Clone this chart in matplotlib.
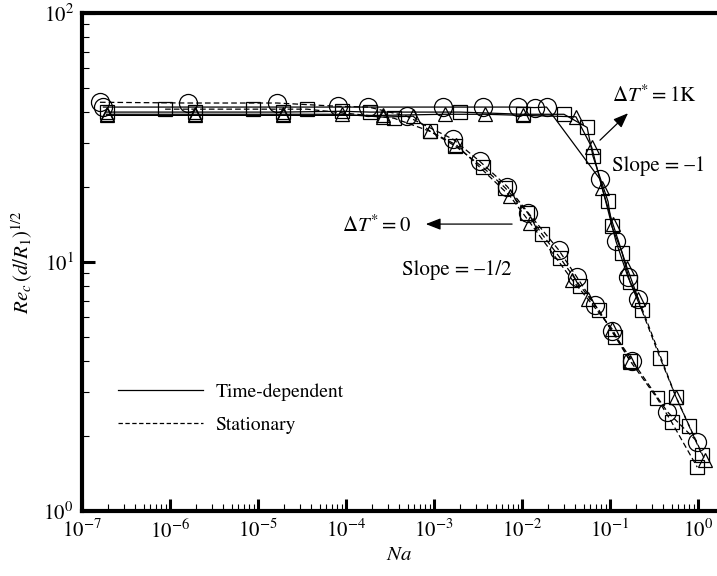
import numpy as np
import matplotlib
matplotlib.use('Agg')
from matplotlib import pyplot as plt
from matplotlib.lines import Line2D
from matplotlib.ticker import LogLocator, FixedLocator, NullFormatter

plt.rcParams['font.family'] = ['STIXGeneral', 'DejaVu Serif']
plt.rcParams['mathtext.fontset'] = 'stix'

# delta T* = 0 (left curve, slope -1/2)
circ0_na = [1.6e-7, 1.6e-6, 1.65e-5, 8.1e-5, 1.8e-4, 4.9e-4, 1.65e-3, 3.3e-3, 6.8e-3, 1.17e-2,
            2.6e-2, 4.2e-2, 6.8e-2, 0.105, 0.18, 0.45, 0.98]
circ0_re = [43.8, 43.5, 43.5, 42.2, 41.9, 38.5, 31.1, 25.4, 20.1, 15.8,
            11.2, 8.7, 6.7, 5.3, 4.0, 2.5, 1.9]

sq0_na = [8.8e-7, 8.7e-6, 3.6e-5, 3.5e-4, 9e-4, 1.75e-3, 3.6e-3, 6.4e-3, 1.15e-2, 1.7e-2,
          2.7e-2, 4.6e-2, 7.5e-2, 0.115, 0.17, 0.34, 0.5, 0.98]
sq0_re = [41.1, 41.1, 41.1, 37.8, 33.5, 29.2, 24.0, 19.9, 15.8, 12.9,
          10.4, 8.0, 6.4, 5.0, 4.0, 2.85, 2.28, 1.5]

tri0_na = [1.9e-7, 1.9e-6, 1.9e-5, 8.9e-5, 2.6e-4, 5.8e-4, 9e-4, 1.8e-3, 7.3e-3, 1.23e-2,
           3.7e-2, 5.6e-2, 0.105, 0.17]
tri0_re = [39.2, 39.2, 39.2, 39.2, 38.2, 38.5, 33.5, 29.5, 18.4, 14.4,
           8.5, 7.1, 5.4, 3.98]

# delta T* = 1K (right curve, slope -1)
circ1_na = [1.75e-7, 1.26e-3, 3.6e-3, 9e-3, 1.4e-2, 1.9e-2, 7.7e-2, 0.117, 0.16, 0.21]
circ1_re = [41.9, 41.9, 41.9, 41.9, 41.7, 41.9, 21.5, 12.1, 8.7, 7.1]

sq1_na = [1.9e-7, 1.9e-6, 1.9e-5, 8.9e-5, 1.87e-4, 2e-3, 1.02e-2, 3e-2, 5.5e-2, 6.4e-2,
          9.5e-2, 0.105, 0.137, 0.169, 0.23, 0.37, 0.56, 0.79, 1.11]
sq1_re = [40.0, 40.0, 40.0, 40.3, 40.0, 40.0, 39.2, 39.2, 34.7, 26.6,
          17.5, 13.9, 10.9, 8.3, 6.4, 4.13, 2.88, 2.2, 1.68]

tri1_na = [1.9e-7, 1.9e-6, 1.9e-5, 2.6e-4, 1.33e-3, 3.8e-3, 1.02e-2, 4.1e-2, 6.2e-2, 8.1e-2,
           0.108, 0.156, 0.21, 0.56, 1.2]
tri1_re = [38.8, 38.8, 38.8, 38.8, 39.2, 39.2, 38.8, 38.3, 28.9, 19.9,
           14.2, 9.5, 7.1, 2.88, 1.6]

x_major = [1e-7, 1e-6, 1e-5, 1e-4, 1e-3, 1e-2, 1e-1, 1e0]
y_major = [1, 10, 100]

# index where each series switches from time-dependent (solid) to stationary (dashed)
series = [
    (circ0_na, circ0_re, 'o', 0),
    (sq0_na, sq0_re, 's', 0),
    (tri0_na, tri0_re, '^', 5),
    (circ1_na, circ1_re, 'o', len(circ1_na)),
    (sq1_na, sq1_re, 's', 14),
    (tri1_na, tri1_re, '^', 12),
]
msizes = {'o': 13, 's': 9.5, '^': 10.5}
dash = (0, (4.5, 2.5))

fig = plt.figure(figsize=(7.17, 5.76), dpi=100)
ax = fig.add_axes([82 / 717, 1 - 511 / 576, 1 - 82 / 717, 498 / 576])

for na, re, mk, k in series:
    na = np.array(na)
    re = np.array(re)
    if k > 0:
        ax.plot(na[:k + 1], re[:k + 1], '-', color='black', lw=0.9)
    if k < len(na) - 1:
        ax.plot(na[k:], re[k:], color='black', lw=0.9, linestyle=dash)
    ax.plot(na, re, linestyle='none', marker=mk, ms=msizes[mk], mfc='none',
            mec='black', mew=0.9)

ax.set_xscale('log')
ax.set_yscale('log')
ax.set_xlim(1e-7, 10 ** 0.216)
ax.set_ylim(1, 100)

ax.xaxis.set_major_locator(FixedLocator(x_major))
ax.yaxis.set_major_locator(FixedLocator(y_major))
ax.xaxis.set_minor_locator(LogLocator(base=10, subs=np.arange(2, 10), numticks=100))
ax.xaxis.set_minor_formatter(NullFormatter())
ax.yaxis.set_minor_locator(LogLocator(base=10, subs=np.arange(2, 10), numticks=100))
ax.yaxis.set_minor_formatter(NullFormatter())

ax.spines['right'].set_visible(False)
for s in ['left', 'bottom', 'top']:
    ax.spines[s].set_linewidth(3)
ax.tick_params(which='major', direction='in', length=9, width=2.2, labelsize=15, pad=6,
               top=False, right=False)
ax.tick_params(which='minor', direction='in', length=5, width=0.8, top=False, right=False)

ax.set_xlabel('$Na$', fontsize=15, labelpad=2)
ax.set_ylabel(r'$Re_c\,(d/R_1)^{1/2}$', fontsize=15, labelpad=6)

ax.annotate('', xy=(7.5e-4, 14.2), xytext=(8.3e-3, 14.2),
            arrowprops=dict(arrowstyle='-|>,head_length=0.9,head_width=0.35', color='black', lw=0.9))
ax.text(5.5e-4, 14.0, r'$\Delta T^{*} = 0$', fontsize=15, ha='right', va='center')
ax.text(4.3e-4, 9.3, 'Slope = \u20131/2', fontsize=15, ha='left', va='center')

ax.annotate('', xy=(0.169, 40.3), xytext=(0.073, 30.3),
            arrowprops=dict(arrowstyle='-|>,head_length=0.9,head_width=0.35', color='black', lw=0.9))
ax.text(0.105, 46.4, r'$\Delta T^{*} = 1\mathrm{K}$', fontsize=15, ha='left', va='center')
ax.text(0.105, 24.2, 'Slope = \u20131', fontsize=15, ha='left', va='center')

handles = [Line2D([], [], color='black', lw=0.9, linestyle='-'),
           Line2D([], [], color='black', lw=0.9, linestyle=(0, (3.5, 2)))]
ax.legend(handles, ['Time-dependent', 'Stationary'], loc='lower left',
          bbox_to_anchor=(0.029, 0.12), frameon=False, fontsize=14,
          handlelength=4.4, handletextpad=0.6, labelspacing=0.8)

plt.savefig('out.png', dpi=100)
